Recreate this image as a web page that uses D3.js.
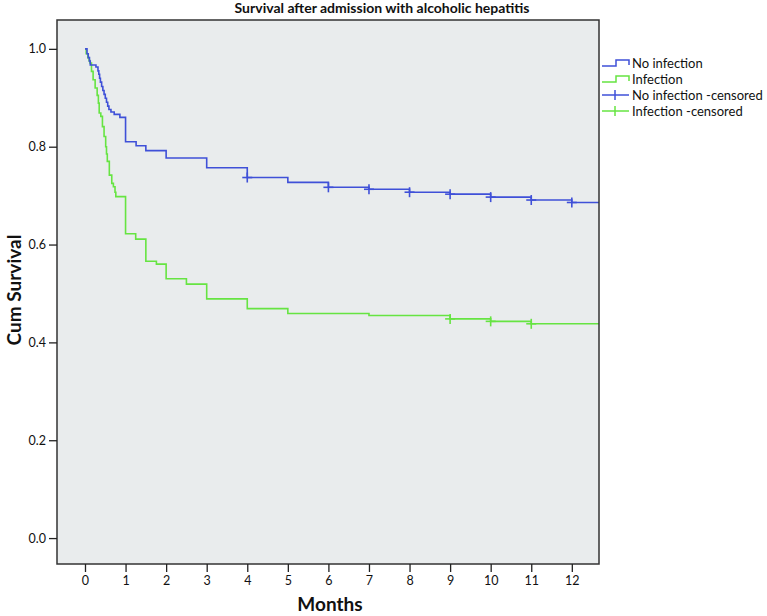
<!DOCTYPE html>
<html>
<head>
<meta charset="utf-8">
<script src="https://cdn.jsdelivr.net/npm/d3@7"></script>
<style>
  html, body { margin: 0; padding: 0; background: #fff; }
  svg { display: block; }
  text { font-family: Lato, "DejaVu Sans", sans-serif; fill: #111; }
</style>
</head>
<body>
<svg id="chart" width="767" height="616"></svg>
<script>
// ---- data ----
const title = "Survival after admission with alcoholic hepatitis";
const xLabel = "Months";
const yLabel = "Cum Survival";
const xTicks = [0, 1, 2, 3, 4, 5, 6, 7, 8, 9, 10, 11, 12];
const yTicks = [0.0, 0.2, 0.4, 0.6, 0.8, 1.0];
const seriesNames = ["No infection", "Infection"];
const legendLabels = ["No infection", "Infection", "No infection -censored", "Infection -censored"];

// No infection: step times (months) and cumulative survival after each step
const noInfTimes = [0.00, 0.05, 0.08, 0.11, 0.13, 0.27, 0.32, 0.34, 0.36, 0.38, 0.41, 0.44, 0.47, 0.50, 0.53, 0.56, 0.59, 0.64, 0.72, 0.86, 1.00, 1.26, 1.50, 2.00, 3.00, 4.00, 5.00, 6.00, 7.00, 8.00, 9.00, 10.00, 11.00, 12.00];
const noInfSurv  = [1.000, 0.990, 0.982, 0.975, 0.967, 0.963, 0.955, 0.948, 0.940, 0.932, 0.923, 0.915, 0.907, 0.899, 0.891, 0.883, 0.876, 0.871, 0.866, 0.860, 0.810, 0.802, 0.792, 0.777, 0.757, 0.737, 0.727, 0.717, 0.713, 0.707, 0.703, 0.697, 0.691, 0.686];
const noInfCensored = [4, 6, 7, 8, 9, 10, 11, 12];

// Infection
const infTimes = [0.00, 0.03, 0.07, 0.10, 0.12, 0.16, 0.20, 0.25, 0.30, 0.33, 0.35, 0.39, 0.43, 0.47, 0.51, 0.53, 0.55, 0.60, 0.66, 0.70, 0.74, 0.76, 1.00, 1.25, 1.50, 1.76, 2.00, 2.50, 3.00, 4.00, 5.00, 7.00, 9.00, 10.00, 11.00];
const infSurv  = [1.000, 0.990, 0.982, 0.976, 0.971, 0.954, 0.937, 0.920, 0.905, 0.889, 0.869, 0.862, 0.841, 0.821, 0.800, 0.785, 0.770, 0.742, 0.725, 0.718, 0.707, 0.698, 0.622, 0.611, 0.566, 0.560, 0.530, 0.519, 0.489, 0.469, 0.459, 0.455, 0.448, 0.443, 0.438];
const infCensored = [9, 10, 11];

const colors = ["#3f50d8", "#66e442"];

// ---- layout ----
const frame = { left: 57, right: 599, top: 20, bottom: 564 };
const svg = d3.select("#chart");

const x = d3.scaleLinear().domain([-0.69, 12.67]).range([frame.left, frame.right]);
const y = d3.scaleLinear().domain([-0.053, 1.059]).range([frame.bottom, frame.top]);

// plot background
svg.append("rect")
  .attr("x", frame.left).attr("y", frame.top)
  .attr("width", frame.right - frame.left).attr("height", frame.bottom - frame.top)
  .attr("fill", "#e9eced");

// clip
svg.append("clipPath").attr("id", "clip").append("rect")
  .attr("x", frame.left).attr("y", frame.top)
  .attr("width", frame.right - frame.left).attr("height", frame.bottom - frame.top);

const plot = svg.append("g").attr("clip-path", "url(#clip)");

function survAt(times, surv, t) {
  let s = surv[0];
  for (let i = 0; i < times.length; i++) if (times[i] <= t + 1e-9) s = surv[i];
  return s;
}

const series = [
  { times: noInfTimes, surv: noInfSurv, cens: noInfCensored, color: colors[0] },
  { times: infTimes, surv: infSurv, cens: infCensored, color: colors[1] }
];

const line = d3.line().x(d => x(d[0])).y(d => y(d[1])).curve(d3.curveStepAfter);

[series[1], series[0]].forEach(s => {
  const pts = s.times.map((t, i) => [t, s.surv[i]]);
  pts.push([x.domain()[1], s.surv[s.surv.length - 1]]);
  plot.append("path")
    .attr("d", line(pts))
    .attr("fill", "none")
    .attr("stroke", s.color)
    .attr("stroke-width", 1.6);
  const g = plot.append("g");
  s.cens.forEach(t => {
    const cx = x(t), cy = y(survAt(s.times, s.surv, t));
    g.append("line").attr("x1", cx - 5).attr("x2", cx + 5).attr("y1", cy).attr("y2", cy)
      .attr("stroke", s.color).attr("stroke-width", 1.6);
    g.append("line").attr("x1", cx).attr("x2", cx).attr("y1", cy - 5).attr("y2", cy + 5)
      .attr("stroke", s.color).attr("stroke-width", 1.6);
  });
});

// frame
svg.append("rect")
  .attr("x", frame.left).attr("y", frame.top)
  .attr("width", frame.right - frame.left).attr("height", frame.bottom - frame.top)
  .attr("fill", "none").attr("stroke", "#333").attr("stroke-width", 1.5);

// axes
const xAxis = d3.axisBottom(x).tickValues(xTicks).tickFormat(d3.format("d")).tickSize(8).tickPadding(4);
const gx = svg.append("g").attr("transform", `translate(0,${frame.bottom})`).call(xAxis);
gx.select(".domain").remove();
gx.selectAll(".tick line").attr("stroke", "#222").attr("stroke-width", 1.3);
gx.selectAll(".tick text").style("font-size", "12.5px").attr("fill", "#111");

const yAxis = d3.axisLeft(y).tickValues(yTicks).tickFormat(d3.format(".1f")).tickSize(8).tickPadding(3);
const gy = svg.append("g").attr("transform", `translate(${frame.left},0)`).call(yAxis);
gy.select(".domain").remove();
gy.selectAll(".tick line").attr("stroke", "#222").attr("stroke-width", 1.3);
gy.selectAll(".tick text").style("font-size", "12.5px").attr("fill", "#111");

// title & labels
svg.append("text").attr("x", 382).attr("y", 13).attr("text-anchor", "middle")
  .style("font-size", "14px").style("font-weight", "bold").text(title);
svg.append("text").attr("x", 330).attr("y", 611).attr("text-anchor", "middle")
  .style("font-size", "19px").style("font-weight", "bold").text(xLabel);
svg.append("text").attr("transform", "translate(21,290) rotate(-90)").attr("text-anchor", "middle")
  .style("font-size", "19px").style("font-weight", "bold").text(yLabel);

// legend
const legend = svg.append("g").attr("transform", "translate(602,63)");
legendLabels.forEach((lab, i) => {
  const gy0 = i * 16;
  const c = colors[i % 2];
  const g = legend.append("g").attr("transform", `translate(0,${gy0})`);
  if (i < 2) {
    g.append("path").attr("d", "M0,3 H14 V-3 H27 V2")
      .attr("fill", "none").attr("stroke", c).attr("stroke-width", 1.5);
  } else {
    g.append("line").attr("x1", 0).attr("x2", 27).attr("y1", 0).attr("y2", 0)
      .attr("stroke", c).attr("stroke-width", 1.5);
    g.append("line").attr("x1", 13).attr("x2", 13).attr("y1", -5).attr("y2", 5)
      .attr("stroke", c).attr("stroke-width", 1.5);
  }
  g.append("text").attr("x", 30).attr("y", 0).attr("dy", "0.35em")
    .style("font-size", "13px").text(lab);
});
</script>
</body>
</html>
